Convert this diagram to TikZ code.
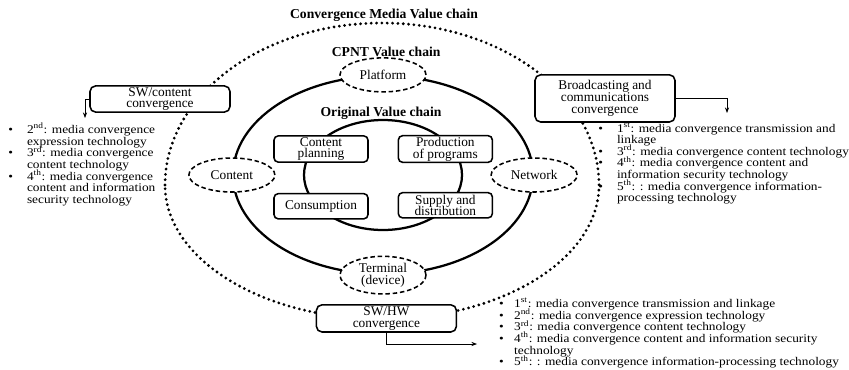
\documentclass[tikz,border=0pt]{standalone}
\usepackage{fontspec}
\setmainfont{Liberation Serif}
\usetikzlibrary{shapes.geometric, positioning, arrows.meta, calc}
\setlength{\lineskiplimit}{-5pt}
\newcommand{\techbul}[1][10pt]{\textbullet\hspace{#1}}
\newcommand{\techgap}[1][10pt]{\hphantom{\textbullet}\hspace{#1}}
\tikzset{
  chainbox/.style={rectangle, rounded corners=3pt, minimum width=2.35cm, minimum height=0.63cm, inner sep=1pt, text centered, align=center, draw=black, line width=1.1pt, fill=white},
  convbox/.style={rectangle, rounded corners=4pt, minimum width=3.5cm, inner sep=1pt, text centered, align=center, draw=black, line width=1.1pt, fill=white},
  cpntnode/.style={ellipse, dash pattern=on 3.2pt off 2pt, minimum width=2.15cm, minimum height=0.85cm, inner sep=1pt, align=center, draw=black, line width=1.1pt, fill=white},
  ring/.style={ellipse, draw=black, line width=1.6pt, inner sep=0pt},
  convdots/.style={line width=2.2pt, dash pattern=on 0pt off 3.8pt, line cap=round},
  techlist/.style={anchor=north west, inner sep=0pt, align=left, yscale=0.88, font=\fontsize{9.5}{9.4}\selectfont},
  chaintitle/.style={font=\fontsize{9.7}{8.3}\selectfont\bfseries},
  arrow/.style={->, >={Stealth[length=4pt, width=3pt]}, line width=0.5pt}
}

\begin{document}
\begin{tikzpicture}[every node/.style={font=\fontsize{9.5}{8.3}\selectfont}]
  \useasboundingbox (0,0) rectangle (21.225,-9.225);
  \coordinate (mid) at (9.575,-4.375);

  % 1. Cadena exterior punteada (mitad superior mas alta que la inferior)
  \draw [convdots] (9.55,-4.625) ++(-5.425,0)
    arc[start angle=180, end angle=0, x radius=5.425, y radius=4.05]
    arc[start angle=0, end angle=-180, x radius=5.425, y radius=3.35];

  \node (cpnt) [ring, minimum width=7.5cm, minimum height=4.95cm] at (mid) {};
  \node (orig) [ring, minimum width=3.95cm, minimum height=2.75cm] at (mid) {};

  \node (title) [chaintitle] at (9.6,-0.38) {Convergence Media Value chain};
  \node (cpnttitle) [chaintitle] at ($(cpnt.north)+(0.08,0.58)$) {CPNT Value chain};
  \node (origtitle) [chaintitle] at ($(orig.north)+(-0.05,0.15)$) {Original Value chain};

  % 2. Cadena original
  \node (plan) [chainbox] at ($(mid)+(-1.55,0.65)$) {Content\\planning};
  \node (prod) [chainbox, right=0.72cm of plan] {Production\\of programs};
  \node (cons) [chainbox, below=0.75cm of plan] {Consumption};
  \node (supply) [chainbox, below=0.72cm of prod] {Supply and\\distribution};

  % 3. Cadena CPNT
  \node (platform) [cpntnode] at (cpnt.north) {Platform};
  \node (content) [cpntnode] at (cpnt.west) {Content};
  \node (network) [cpntnode] at (cpnt.east) {Network};
  \node (terminal) [cpntnode] at (cpnt.south) {Terminal\\(device)};

  % 4. Convergencias sobre la cadena exterior
  \node (swc) [convbox, minimum height=0.65cm] at (4.0,-2.475) {SW/content\\convergence};
  \node (bcc) [convbox, minimum height=1.18cm] at (15.125,-2.46) {Broadcasting and\\communications\\convergence};
  \node (swhw) [convbox, minimum height=0.68cm] at (9.66,-7.96) {SW/HW\\convergence};

  \node (swlist) [techlist] at (0.2,-3.07) {%
    \techbul 2\textsuperscript{nd}: media convergence\\
    \techgap expression technology\\
    \techbul 3\textsuperscript{rd}: media convergence\\
    \techgap content technology\\
    \techbul 4\textsuperscript{th}: media convergence\\
    \techgap content and information\\
    \techgap security technology};
  \node (bclist) [techlist] at (14.95,-3.06) {%
    \techbul 1\textsuperscript{st}: media convergence transmission and\\
    \techgap linkage\\
    \techbul 3\textsuperscript{rd}: media convergence content technology\\
    \techbul 4\textsuperscript{th}: media convergence content and\\
    \techgap information security technology\\
    \techbul 5\textsuperscript{th}: : media convergence information-\\
    \techgap processing technology};
  \node (hwlist) [techlist] at (12.47,-7.45) {%
    \techbul[5pt] 1\textsuperscript{st}: media convergence transmission and linkage\\
    \techbul[5pt] 2\textsuperscript{nd}: media convergence expression technology\\
    \techbul[5pt] 3\textsuperscript{rd}: media convergence content technology\\
    \techbul[5pt] 4\textsuperscript{th}: media convergence content and information security\\
    \techgap[5pt] technology\\
    \techbul[5pt] 5\textsuperscript{th}: : media convergence information-processing technology};

  \coordinate (swtip) at (2.125,-2.95);
  \coordinate (bctip) at (18.175,-2.825);
  \coordinate (hwtip) at (11.925,-8.6);
  \draw [arrow] (swc.west) -| (swtip);
  \draw [arrow] (bcc.east) -| (bctip);
  \draw [arrow] (swhw.south) |- (hwtip);
\end{tikzpicture}
\end{document}
